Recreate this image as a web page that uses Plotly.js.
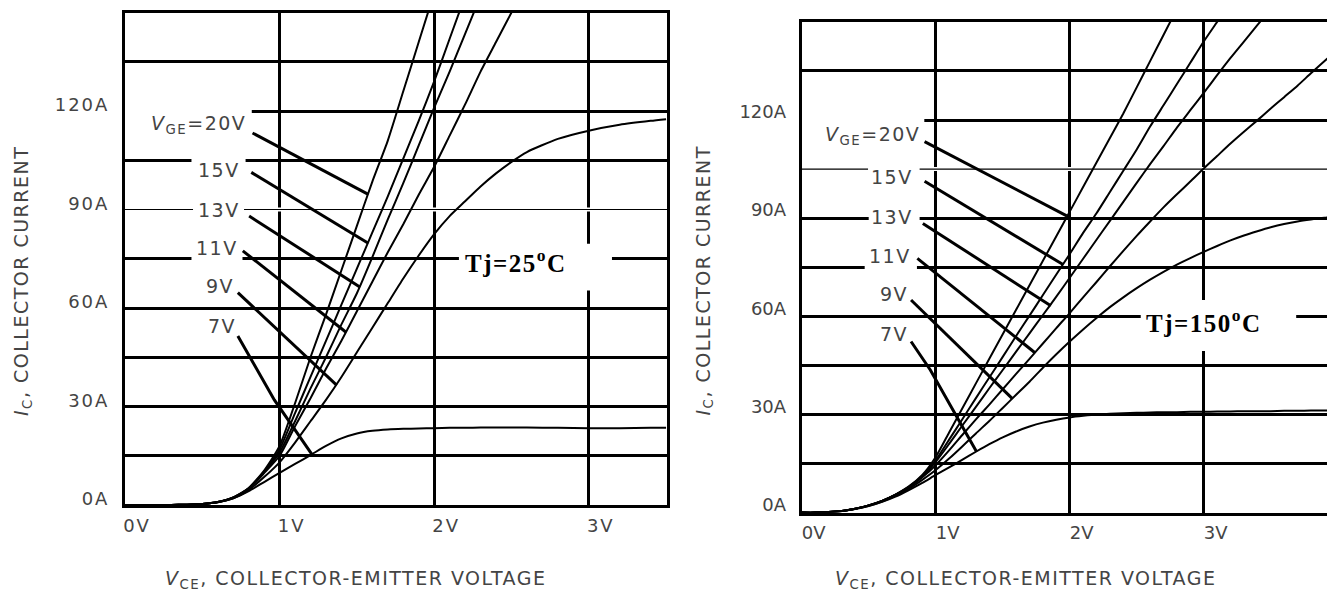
<!DOCTYPE html>
<html>
<head>
<meta charset="utf-8">
<script src="https://cdn.plot.ly/plotly-3.0.1.min.js"></script>
<style>
html,body{margin:0;padding:0;background:#fff;}
#chart{width:1327px;height:592px;}
.xtick text, .ytick text { letter-spacing: 2px; }
.annotation-text { letter-spacing: 1.5px; }
</style>
</head>
<body>
<div id="chart"></div>
<script>
// ---------- DATA: Tj = 25 C ----------
const vce25 = [0, 0.3, 0.4, 0.5, 0.6, 0.7, 0.8, 0.9, 1.0, 1.1, 1.2, 1.3, 1.4, 1.5, 1.6, 1.7, 1.8, 1.9, 2.0, 2.1, 2.2, 2.3, 2.4, 2.5, 2.6, 2.8, 3.0, 3.2, 3.4, 3.5];
const ic25_20V = [0, 0, 0.1, 0.3, 0.9, 2.3, 5.2, 10.5, 18, 31, 45, 58, 71.5, 85, 98.5, 111, 126, 141, 156];
const ic25_15V = [0, 0, 0.1, 0.3, 0.9, 2.3, 5.1, 10.2, 17, 28, 39, 50, 61, 72, 83, 94, 105.5, 117, 129, 142, 155];
const ic25_13V = [0, 0, 0.1, 0.3, 0.9, 2.2, 5.0, 10, 16, 25.5, 35.5, 45, 55, 64.5, 75.5, 87, 98, 109.5, 121, 132, 143.5, 155];
const ic25_11V = [0, 0, 0.1, 0.3, 0.9, 2.2, 4.9, 9.7, 15, 24, 32.5, 41.5, 50, 59, 68, 77, 85.5, 94.5, 103, 112.5, 122, 132, 141, 150, 159];
const ic25_9V  = [0, 0, 0.1, 0.3, 0.8, 2.0, 4.5, 8.5, 13, 19, 25.5, 32, 39, 46.5, 54, 61.5, 69, 76, 82.5, 88, 92.5, 97, 101, 104.5, 107.5, 111.5, 114, 115.8, 117, 117.5];
const ic25_7V  = [0, 0, 0.1, 0.3, 0.8, 2.0, 4.2, 7.0, 9.8, 12.5, 15.2, 18, 20.3, 21.8, 22.6, 23, 23.2, 23.3, 23.4, 23.5, 23.5, 23.6, 23.6, 23.6, 23.6, 23.5, 23.4, 23.4, 23.5, 23.5];

// ---------- DATA: Tj = 150 C ----------
const vce150 = [0, 0.1, 0.2, 0.3, 0.4, 0.5, 0.6, 0.7, 0.8, 0.9, 1.0, 1.1, 1.2, 1.3, 1.4, 1.5, 1.6, 1.7, 1.8, 1.9, 2.0, 2.1, 2.2, 2.3, 2.4, 2.5, 2.6, 2.7, 2.8, 2.9, 3.0, 3.1, 3.2, 3.3, 3.4, 3.5, 3.6, 3.7, 3.8, 3.9, 4.0];
const ic150_20V = [0, 0, 0.15, 0.5, 1.2, 2.2, 3.6, 5.5, 8.0, 11.5, 17, 24.5, 32, 39.5, 47, 54.5, 62, 69.5, 77, 84.5, 92, 99.5, 107, 114.5, 122, 130, 138, 146, 154];
const ic150_15V = [0, 0, 0.15, 0.5, 1.2, 2.2, 3.6, 5.5, 7.9, 11.3, 16, 22.3, 28.6, 35, 41.3, 47.6, 54, 60.2, 66.5, 72.8, 79, 85.5, 91.5, 98, 104.5, 111, 118, 124.5, 131, 137.5, 144, 150, 156];
const ic150_13V = [0, 0, 0.15, 0.5, 1.2, 2.2, 3.6, 5.4, 7.8, 11.0, 15.5, 21, 26.7, 32.3, 38, 43.6, 49.2, 54.8, 60.4, 66, 71.8, 77.6, 83.4, 89.2, 95, 100.8, 106.5, 112, 117.7, 123, 128.3, 133.7, 139, 144, 149, 154];
const ic150_11V = [0, 0, 0.15, 0.5, 1.2, 2.2, 3.6, 5.4, 7.7, 10.8, 14.5, 19, 23.8, 28.5, 33, 37.7, 42.4, 47, 51.7, 56.4, 61, 65.8, 70.5, 75.3, 80, 84.6, 89, 93.3, 97.3, 101.2, 105.2, 109, 112.8, 116.4, 119.9, 123.5, 127, 130.5, 134.3, 138, 141.5];
const ic150_9V  = [0, 0, 0.15, 0.5, 1.2, 2.1, 3.4, 5.1, 7.3, 10, 13, 16.5, 20.3, 24.2, 28, 32, 36, 40, 44.3, 48.4, 52.3, 56, 59.5, 62.8, 65.8, 68.6, 71.2, 73.6, 75.8, 77.8, 79.7, 81.5, 83.2, 84.7, 86, 87.2, 88.2, 89, 89.6, 90.1, 90.4];
const ic150_7V  = [0, 0, 0.15, 0.5, 1.1, 2.0, 3.3, 4.9, 6.9, 9.1, 11.5, 13.8, 16.2, 18.6, 20.9, 23, 24.8, 26.3, 27.5, 28.4, 29.1, 29.6, 30, 30.2, 30.4, 30.5, 30.6, 30.7, 30.7, 30.8, 30.8, 30.9, 30.9, 31, 31, 31, 31.1, 31.1, 31.2, 31.2, 31.2];

// ---------- Labels & leader lines ----------
const labelText = ['<i>V</i><sub>GE</sub>=20V', '15V', '13V', '11V', '9V', '7V'];
const labelV25 = [0.796, 0.757, 0.757, 0.744, 0.718, 0.731];
const labelA25 = [115.9, 102.0, 89.7, 78.2, 66.7, 54.4];
const labelV150 = [0.895, 0.846, 0.846, 0.830, 0.808, 0.808];
const labelA150 = [115.4, 102.5, 90.4, 78.4, 66.7, 54.6];

const leaderV25 = [[0.825, 1.574], [0.817, 1.574], [0.803, 1.519], [0.762, 1.43], [0.73, 1.369], [0.73, 0.966, 1.208]];
const leaderA25 = [[113.3, 94.6], [101.3, 79.7], [88.0, 66.4], [77.4, 52.6], [64.7, 36.5], [51.5, 32.0, 15.5]];
const leaderV150 = [[0.917, 1.978], [0.917, 1.947], [0.904, 1.859], [0.863, 1.743], [0.816, 1.570], [0.816, 0.96, 1.305]];
const leaderA150 = [[113.4, 90.7], [101.3, 75.9], [88.4, 63.2], [77.7, 48.8], [65.0, 34.9], [52.3, 43.6, 18.6]];

const xTickVals = [0, 1, 2, 3];
const xTickText = ['0V', '1V', '2V', '3V'];
const yTickVals = [0, 30, 60, 90, 120];
const yTickText = ['0A', '30A', '60A', '90A', '120A'];
const yMinorVals = [15, 45, 75, 105, 135, 150];

// ---------- traces ----------
const traces = [];
function curve(xs, ys, xa, ya, name) {
  traces.push({x: xs.slice(0, ys.length), y: ys, xaxis: xa, yaxis: ya, name: name,
    type: 'scatter', mode: 'lines', line: {color: '#000', width: 2, shape: 'spline', smoothing: 0.6},
    hoverinfo: 'skip'});
}
curve(vce25, ic25_20V, 'x', 'y', 'VGE=20V');
curve(vce25, ic25_15V, 'x', 'y', 'VGE=15V');
curve(vce25, ic25_13V, 'x', 'y', 'VGE=13V');
curve(vce25, ic25_11V, 'x', 'y', 'VGE=11V');
curve(vce25, ic25_9V, 'x', 'y', 'VGE=9V');
curve(vce25, ic25_7V, 'x', 'y', 'VGE=7V');
curve(vce150, ic150_20V, 'x2', 'y2', 'VGE=20V');
curve(vce150, ic150_15V, 'x2', 'y2', 'VGE=15V');
curve(vce150, ic150_13V, 'x2', 'y2', 'VGE=13V');
curve(vce150, ic150_11V, 'x2', 'y2', 'VGE=11V');
curve(vce150, ic150_9V, 'x2', 'y2', 'VGE=9V');
curve(vce150, ic150_7V, 'x2', 'y2', 'VGE=7V');

function leaders(vs, as, xa, ya) {
  for (let i = 0; i < vs.length; i++) {
    traces.push({x: vs[i], y: as[i], xaxis: xa, yaxis: ya, type: 'scatter', mode: 'lines',
      line: {color: '#000', width: 3}, hoverinfo: 'skip', showlegend: false});
  }
}
leaders(leaderV25, leaderA25, 'x', 'y');
leaders(leaderV150, leaderA150, 'x2', 'y2');

// ---------- annotations ----------
const labelFont = {family: 'DejaVu Sans', size: 19, color: '#444'};
const annotations = [];
function addLabels(vs, as, xa, ya) {
  for (let i = 0; i < labelText.length; i++) {
    annotations.push({text: labelText[i], x: vs[i], y: as[i], xref: xa, yref: ya,
      xanchor: 'right', yanchor: 'middle', showarrow: false, font: labelFont});
  }
}
addLabels(labelV25, labelA25, 'x', 'y');
addLabels(labelV150, labelA150, 'x2', 'y2');

const titleFont = {family: 'DejaVu Sans', size: 19, color: '#444'};
annotations.push({text: '<i>I</i><sub>C</sub>, COLLECTOR CURRENT', xref: 'paper', yref: 'paper',
  x: 22 / 1327, y: 1 - 281 / 592, textangle: -90, showarrow: false, font: titleFont, xanchor: 'center', yanchor: 'middle'});
annotations.push({text: '<i>I</i><sub>C</sub>, COLLECTOR CURRENT', xref: 'paper', yref: 'paper',
  x: 703.5 / 1327, y: 1 - 281 / 592, textangle: -90, showarrow: false, font: titleFont, xanchor: 'center', yanchor: 'middle'});
annotations.push({text: '<i>V</i><sub>CE</sub>, COLLECTOR-EMITTER VOLTAGE', xref: 'paper', yref: 'paper',
  x: 355.7 / 1327, y: 1 - 579 / 592, showarrow: false, font: titleFont, xanchor: 'center', yanchor: 'middle'});
annotations.push({text: '<i>V</i><sub>CE</sub>, COLLECTOR-EMITTER VOLTAGE', xref: 'paper', yref: 'paper',
  x: 1026 / 1327, y: 1 - 579.5 / 592, showarrow: false, font: titleFont, xanchor: 'center', yanchor: 'middle'});

const tjFont = {family: 'Liberation Serif', size: 25, color: '#000'};
annotations.push({text: '<b>Tj=25<sup>o</sup>C</b>', xref: 'paper', yref: 'paper',
  x: 515.5 / 1327, y: 1 - 261 / 592, showarrow: false, font: tjFont, xanchor: 'center', yanchor: 'middle'});
annotations.push({text: '<b>Tj=150<sup>o</sup>C</b>', xref: 'paper', yref: 'paper',
  x: 1203.5 / 1327, y: 1 - 321 / 592, showarrow: false, font: tjFont, xanchor: 'center', yanchor: 'middle'});

// ---------- shapes: white masks over gridlines, thin grid line ----------
function hmask(xa, ya, v0, v1, a) {
  return {type: 'rect', xref: xa, yref: ya, x0: v0, x1: v1, y0: a - 1.3, y1: a + 1.3,
    fillcolor: '#fff', line: {width: 0}, layer: 'between'};
}
function thin(xa, ya, v1, a) {
  return [
    {type: 'line', xref: xa, yref: ya, x0: 0, x1: v1, y0: a, y1: a, line: {color: '#fff', width: 4}, layer: 'between'},
    {type: 'line', xref: xa, yref: ya, x0: 0, x1: v1, y0: a, y1: a, line: {color: '#000', width: 1.2}, layer: 'between'}
  ];
}
const shapes = [].concat(
  thin('x', 'y', 3.506, 90),
  thin('x2', 'y2', 3.92, 105),
  [
    hmask('x', 'y', 0, 0.82, 120),
    hmask('x', 'y', 0.43, 0.78, 105),
    hmask('x', 'y', 0.44, 0.77, 90),
    hmask('x', 'y', 0.43, 0.76, 75),
    hmask('x2', 'y2', 0, 0.915, 120),
    hmask('x2', 'y2', 0.495, 0.88, 105),
    hmask('x2', 'y2', 0.5, 0.88, 90),
    hmask('x2', 'y2', 0.47, 0.86, 75),
    {type: 'rect', xref: 'x', yref: 'y', x0: 2.16, x1: 3.15, y0: 65.3, y1: 79.6, fillcolor: '#fff', line: {width: 0}, layer: 'between'},
    {type: 'rect', xref: 'x2', yref: 'y2', x0: 2.53, x1: 3.69, y0: 49.4, y1: 65.0, fillcolor: '#fff', line: {width: 0}, layer: 'between'}
  ]
);

const tickFont = {family: 'DejaVu Sans', size: 18, color: '#444'};
function xAxis(domain, range, anchor, mirror) {
  return {domain: domain, range: range, anchor: anchor, tickmode: 'array', tickvals: xTickVals, ticktext: xTickText,
    showgrid: true, gridcolor: '#000', gridwidth: 3, showline: true, linecolor: '#000', linewidth: 3, mirror: mirror,
    zeroline: false, ticks: '', tickfont: tickFont, ticklabelshift: 12, ticklabelstandoff: 2, fixedrange: true};
}
function yAxis(domain, anchor, mirror, shift) {
  return {domain: domain, range: [0, 150], anchor: anchor, tickmode: 'array', tickvals: yTickVals, ticktext: yTickText,
    minor: {tickmode: 'array', tickvals: yMinorVals, showgrid: true, gridcolor: '#000', gridwidth: 3, ticks: ''},
    showgrid: true, gridcolor: '#000', gridwidth: 3, showline: true, linecolor: '#000', linewidth: 3, mirror: mirror,
    zeroline: false, ticks: '', tickfont: tickFont, ticklabelshift: shift, ticklabelstandoff: 9, fixedrange: true};
}

const layout = {
  width: 1327, height: 592, margin: {l: 0, r: 0, t: 0, b: 0, pad: 0},
  paper_bgcolor: '#fff', plot_bgcolor: '#fff', showlegend: false,
  xaxis: xAxis([125 / 1327, 667 / 1327], [0, 3.506], 'y', true),
  yaxis: yAxis([87 / 592, 579.5 / 592], 'x', true, -6),
  xaxis2: xAxis([801.7 / 1327, 1], [0, 3.92], 'y2', true),
  yaxis2: yAxis([79.4 / 592, 570.1 / 592], 'x2', false, -8),
  annotations: annotations,
  shapes: shapes
};

Plotly.newPlot('chart', traces, layout, {staticPlot: true, displayModeBar: false});
</script>
</body>
</html>
